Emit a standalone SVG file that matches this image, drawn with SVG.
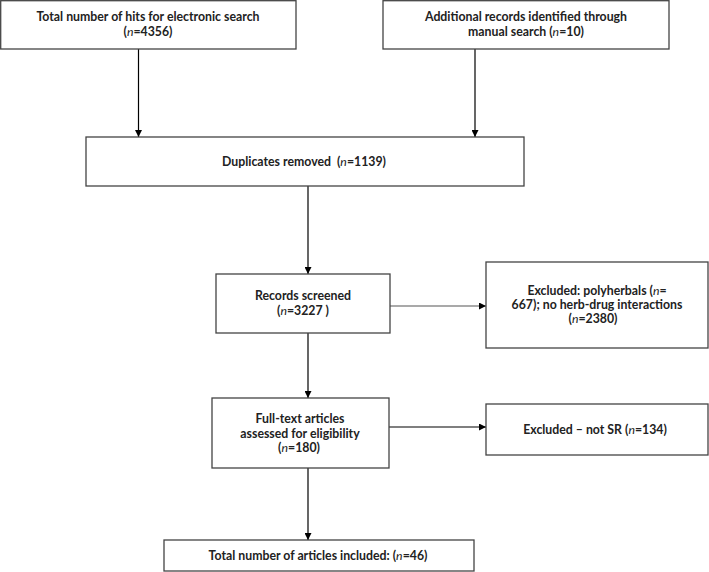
<svg xmlns="http://www.w3.org/2000/svg" width="709" height="572" viewBox="0 0 709 572">
<defs>
<marker id="ah" viewBox="0 0 10 10" refX="10" refY="5" markerWidth="7" markerHeight="7" markerUnits="userSpaceOnUse" orient="auto">
<path d="M0,0 L10,5 L0,10 z" fill="#000"/>
</marker>
<style>
rect.box{fill:#fff;stroke:#444;stroke-width:1.3}
text{font-family:Lato,"Liberation Sans",sans-serif;font-size:12.3px;font-weight:bold;fill:#222;text-anchor:middle;white-space:pre}
tspan.i{font-style:italic;font-weight:normal}
.conn line{stroke:#000;stroke-width:1.2;marker-end:url(#ah)}
.conn line.g{stroke:#555}
</style>
</defs>
<rect width="709" height="572" fill="#fff"/>
<g class="conn" id="connectors">
<line x1="138.5" y1="49" x2="138.5" y2="137"/>
<line x1="475" y1="49" x2="475" y2="137"/>
<line x1="308" y1="186" x2="308" y2="274"/>
<line class="g" x1="390" y1="306" x2="486" y2="306"/>
<line x1="308" y1="333" x2="308" y2="398"/>
<line x1="389" y1="427" x2="486" y2="427"/>
<line x1="308" y1="468" x2="308" y2="540"/>
</g>
<g id="electronic">
<rect class="box" x="0.7" y="0.7" width="295.3" height="48.3"/>
<text x="148" y="21">Total number of hits for electronic search</text>
<text x="148" y="36">(<tspan class="i">n</tspan>=4356)</text>
</g>
<g id="manual">
<rect class="box" x="383" y="0.7" width="286" height="48.3"/>
<text x="526" y="21">Additional records identified through</text>
<text x="526" y="36">manual search (<tspan class="i">n</tspan>=10)</text>
</g>
<g id="duplicates">
<rect class="box" x="86" y="137" width="438" height="49"/>
<text x="304" y="166">Duplicates removed  (<tspan class="i">n</tspan>=1139)</text>
</g>
<g id="screened">
<rect class="box" x="216" y="274" width="174" height="59"/>
<text x="303" y="300">Records screened</text>
<text x="303" y="315">(<tspan class="i">n</tspan>=3227 )</text>
</g>
<g id="excluded1">
<rect class="box" x="486" y="262" width="222" height="86"/>
<text x="597" y="295">Excluded: polyherbals (<tspan class="i">n</tspan>=</text>
<text x="597" y="309">667); no herb-drug interactions</text>
<text x="593" y="323">(<tspan class="i">n</tspan>=2380)</text>
</g>
<g id="fulltext">
<rect class="box" x="212" y="398" width="177" height="70"/>
<text x="300" y="423">Full-text articles</text>
<text x="300" y="438">assessed for eligibility</text>
<text x="299" y="452">(<tspan class="i">n</tspan>=180)</text>
</g>
<g id="excluded2">
<rect class="box" x="486" y="404" width="222" height="51"/>
<text x="595" y="434">Excluded – not SR (<tspan class="i">n</tspan>=134)</text>
</g>
<g id="included">
<rect class="box" x="164" y="540" width="310" height="31"/>
<text x="318" y="560">Total number of articles included: (<tspan class="i">n</tspan>=46)</text>
</g>
</svg>
